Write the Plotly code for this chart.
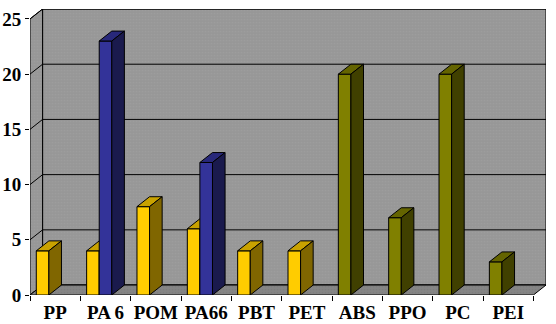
import plotly.graph_objects as go

# Materials along the category axis
categories = ["PP", "PA 6", "POM", "PA66", "PBT", "PET", "ABS", "PPO", "PC", "PEI"]

# First bar in each group (colour per point)
front_values = [4, 4, 8, 6, 4, 4, 20, 7, 20, 3]
front_colors = ["yellow"] * 6 + ["olive"] * 4

# Second bar in a group (only the polyamides have one)
second_values = [None, 23, None, 12, None, None, None, None, None, None]

y_ticks = [0, 5, 10, 15, 20, 25]
y_max = 25

# Face colours: front, top, side
PALETTE = {
    "yellow": ("#FFCC00", "#C9A200", "#806600"),
    "blue": ("#333399", "#28287A", "#1A1A4D"),
    "olive": ("#808000", "#646400", "#404000"),
}
WALL = "#979797"
FLOOR = "#858585"

# Depth of the pseudo-3D box in axis units
DX = 0.25   # along the category axis
DY = 0.9    # along the value axis
BAR_W = 0.25

fig = go.Figure()


def poly(xs, ys, fill, line_color="black", width=1, pattern=None):
    kw = {}
    if pattern is not None:
        kw["fillpattern"] = pattern
    fig.add_trace(go.Scatter(
        x=xs + [xs[0]], y=ys + [ys[0]], mode="lines", fill="toself",
        fillcolor=fill, line=dict(color=line_color, width=width),
        hoverinfo="skip", showlegend=False, **kw))


def seg(xs, ys, width=1):
    fig.add_trace(go.Scatter(
        x=xs, y=ys, mode="lines", line=dict(color="black", width=width),
        hoverinfo="skip", showlegend=False))


n = len(categories)
x_lo, x_hi = -0.5, n - 0.5

wall_pattern = dict(shape=".", size=3, solidity=0.25, fgcolor="#a3a3a3", bgcolor=WALL)
floor_pattern = dict(shape=".", size=3, solidity=0.25, fgcolor="#777777", bgcolor=FLOOR)

# Back wall
poly([x_lo + DX, x_hi + DX, x_hi + DX, x_lo + DX],
     [DY, DY, y_max + DY, y_max + DY], WALL, pattern=wall_pattern)
# Left wall
poly([x_lo, x_lo + DX, x_lo + DX, x_lo],
     [0, DY, y_max + DY, y_max], WALL, pattern=wall_pattern)

# Gridlines on back wall and their continuation on the left wall
for v in y_ticks:
    seg([x_lo, x_lo + DX, x_hi + DX], [v, v + DY, v + DY])

# Floor
poly([x_lo, x_hi, x_hi + DX, x_lo + DX], [0, 0, DY, DY], FLOOR, pattern=floor_pattern)


def bar3d(x0, v, colors):
    x1 = x0 + BAR_W
    front, top, side = colors
    poly([x0, x1, x1, x0], [0, 0, v, v], front)
    poly([x0, x1, x1 + DX, x0 + DX], [v, v, v + DY, v + DY], top)
    poly([x1, x1 + DX, x1 + DX, x1], [0, DY, v + DY, v], side)


for i in range(n):
    left = i - 0.375
    bar3d(left, front_values[i], PALETTE[front_colors[i]])
    if second_values[i] is not None:
        bar3d(left + BAR_W, second_values[i], PALETTE["blue"])

x_font = dict(family="Liberation Serif", size=19, color="black", weight="bold")
y_font = dict(family="Liberation Serif", size=19, color="black", weight="bold")

fig.update_layout(
    width=556, height=324,
    margin=dict(l=30, r=10, t=9, b=29),
    paper_bgcolor="white", plot_bgcolor="white",
    showlegend=False, hovermode=False,
    xaxis=dict(
        range=[x_lo, x_hi + DX], showgrid=False, zeroline=False, showline=False,
        tickmode="array", tickvals=list(range(n)), ticktext=categories,
        ticks="", tickfont=x_font, fixedrange=True, ticklabelstandoff=4,
        automargin=False,
        minor=dict(tickmode="array", tickvals=[k - 0.5 for k in range(n + 1)],
                   ticks="outside", ticklen=5, tickcolor="black", tickwidth=1, showgrid=False),
    ),
    yaxis=dict(
        range=[0, y_max + DY], showgrid=False, zeroline=False, showline=False,
        tickmode="array", tickvals=y_ticks, ticks="outside", ticklen=4,
        tickcolor="black", tickwidth=1, tickfont=y_font, fixedrange=True,
        ticklabelstandoff=0, automargin=False,
    ),
)

fig.write_html("out.html")
